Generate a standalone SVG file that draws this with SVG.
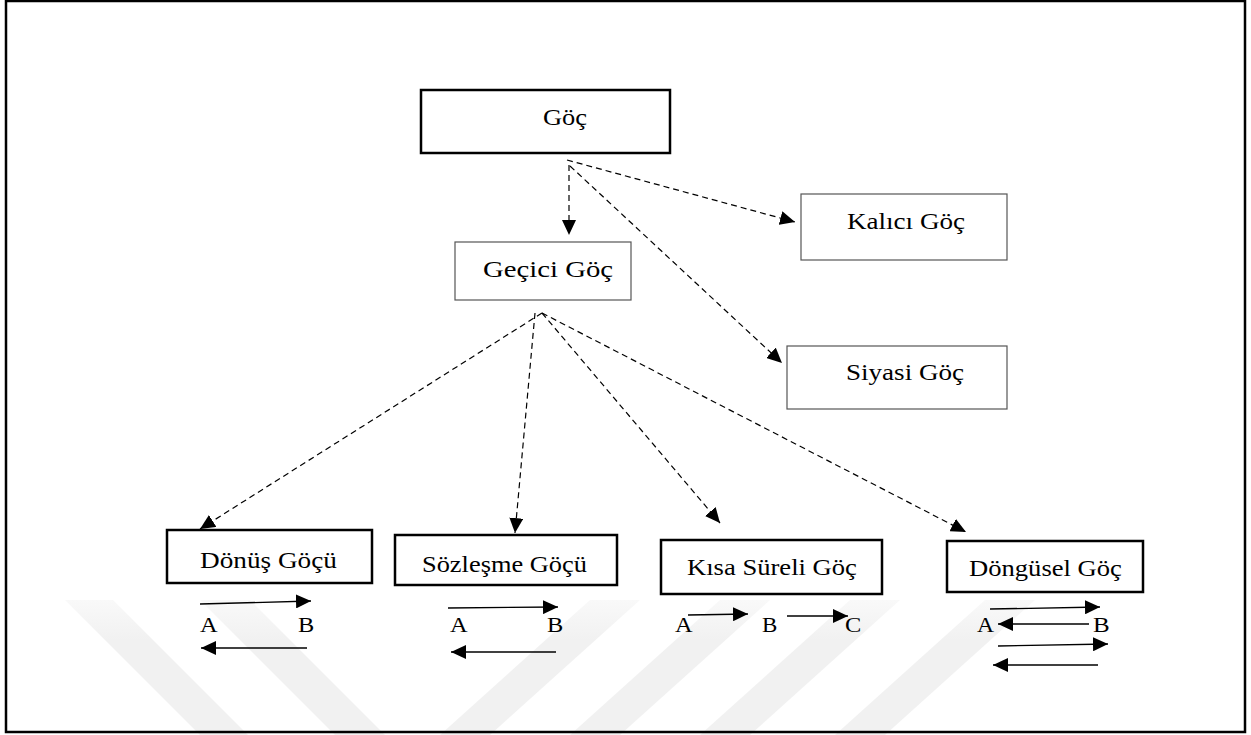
<svg xmlns="http://www.w3.org/2000/svg" width="1251" height="735" viewBox="0 0 1251 735">
<style>
.box{fill:#fff;stroke:#000;stroke-width:2.5}
.thin{fill:#fff;stroke:#555;stroke-width:1.2}
text{font-family:'Liberation Serif','Times New Roman',serif;fill:#000}
.t{font-size:23px}
.l{font-size:20px}
.dash{fill:none;stroke:#000;stroke-width:1.2;stroke-dasharray:6 4;marker-end:url(#ah)}
.arr{fill:none;stroke:#000;stroke-width:1.3;marker-end:url(#ah)}
.wm{fill:url(#wmg)}
</style>
<defs>
<marker id="ah" viewBox="0 0 15 14" refX="15" refY="7" markerWidth="15" markerHeight="14" markerUnits="userSpaceOnUse" orient="auto">
<path d="M0,0 L15,7 L0,14 z" fill="#000"/>
</marker>
<linearGradient id="wmg" gradientUnits="userSpaceOnUse" x1="0" y1="595" x2="0" y2="640">
<stop offset="0" stop-color="#fafafa"/>
<stop offset="1" stop-color="#f1f1f1"/>
</linearGradient>
</defs>
<rect width="1251" height="735" fill="#fff"/>
<g id="watermark">
<polygon class="wm" points="65,600 113,600 248,735 200,735"/>
<polygon class="wm" points="200,600 250,600 385,735 335,735"/>
<polygon class="wm" points="590,600 640,600 490,735 440,735"/>
<polygon class="wm" points="720,600 770,600 620,735 570,735"/>
<polygon class="wm" points="850,600 900,600 750,735 700,735"/>
<polygon class="wm" points="985,600 1035,600 885,735 835,735"/>
</g>
<rect x="6" y="1" width="1239" height="731" fill="none" stroke="#000" stroke-width="2.5"/>
<g id="connectors">
<path class="dash" d="M569,165 L569,235"/>
<path class="dash" d="M567,160 L795,222"/>
<path class="dash" d="M570,166 L782,363"/>
<path class="dash" d="M542,313 L200,529"/>
<path class="dash" d="M535,313 L515,533"/>
<path class="dash" d="M542,313 L720,523"/>
<path class="dash" d="M542,313 L966,532"/>
</g>
<g id="goc">
<rect class="box" x="421" y="90" width="249" height="63"/>
<text class="t" transform="translate(543,125) scale(1.15,1)">Göç</text>
</g>
<g id="gecici">
<rect class="thin" x="455" y="242" width="176" height="58"/>
<text class="t" transform="translate(483,277) scale(1.25,1)">Geçici Göç</text>
</g>
<g id="kalici">
<rect class="thin" x="801" y="194" width="206" height="66"/>
<text class="t" transform="translate(847,229) scale(1.177,1)">Kalıcı Göç</text>
</g>
<g id="siyasi">
<rect class="thin" x="787" y="346" width="220" height="63"/>
<text class="t" transform="translate(846,380) scale(1.177,1)">Siyasi Göç</text>
</g>
<g id="donus">
<rect class="box" x="167" y="530" width="205" height="53"/>
<text class="t" transform="translate(200,568) scale(1.185,1)">Dönüş Göçü</text>
<path class="arr" d="M200,604 L311,601"/>
<text class="l" transform="translate(200,632) scale(1.22,1)">A</text>
<text class="l" transform="translate(298,632) scale(1.22,1)">B</text>
<path class="arr" d="M307,648 L201,648"/>
</g>
<g id="sozlesme">
<rect class="box" x="395" y="535" width="222" height="50"/>
<text class="t" transform="translate(422,572) scale(1.148,1)">Sözleşme Göçü</text>
<path class="arr" d="M448,608 L558,607"/>
<text class="l" transform="translate(450,632) scale(1.22,1)">A</text>
<text class="l" transform="translate(547,632) scale(1.22,1)">B</text>
<path class="arr" d="M556,652 L451,652"/>
</g>
<g id="kisa">
<rect class="box" x="661" y="540" width="221" height="54"/>
<text class="t" transform="translate(687,575) scale(1.157,1)">Kısa Süreli Göç</text>
<text class="l" transform="translate(675,632) scale(1.22,1)">A</text>
<path class="arr" d="M688,615 L748,614"/>
<text class="l" transform="translate(762,632) scale(1.15,1)">B</text>
<path class="arr" d="M787,616 L848,616"/>
<text class="l" transform="translate(845,632) scale(1.22,1)">C</text>
</g>
<g id="dongusel">
<rect class="box" x="947" y="541" width="196" height="51"/>
<text class="t" transform="translate(969,576) scale(1.157,1)">Döngüsel Göç</text>
<path class="arr" d="M990,609 L1100,607"/>
<text class="l" transform="translate(977,632) scale(1.18,1)">A</text>
<path class="arr" d="M1089,624 L998,624"/>
<text class="l" transform="translate(1093,632) scale(1.25,1)">B</text>
<path class="arr" d="M998,646 L1108,644"/>
<path class="arr" d="M1098,665 L993,665"/>
</g>
</svg>
